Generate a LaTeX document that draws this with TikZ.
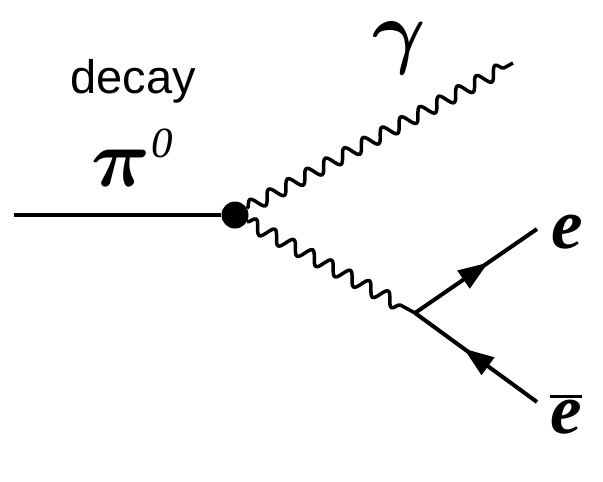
\documentclass[tikz,border=0pt]{standalone}
\usepackage{graphicx}
\usepackage{fontspec}
\setmainfont{Liberation Serif}
\newfontfamily\labelsans{Liberation Sans}
\usetikzlibrary{arrows.meta,positioning,decorations.pathmorphing,decorations.markings}
\tikzset{
  pion/.style={line width=4pt},
  photon/.style={line width=3.5pt, decorate,
    decoration={snake, segment length=21.5pt, amplitude=6.5pt}},
  fermion/.style={line width=4pt, postaction={decorate},
    decoration={markings, mark=at position 0.6 with {\arrow{Triangle[length=30pt,width=21pt]}}}},
  vertexdot/.style={circle, fill=black, minimum size=27pt, inner sep=0pt},
  particle/.style={font=\fontsize{71}{76}\selectfont\bfseries\itshape, inner sep=0pt, anchor=base},
  greek/.style={font=\boldmath, inner sep=0pt, anchor=base},
  caption/.style={font=\labelsans\fontsize{47}{50}\selectfont, inner sep=0pt, anchor=base}
}
\begin{document}
\begin{tikzpicture}[x=1pt, y=-1pt]
  \useasboundingbox (0,0) rectangle (603,482);
  % vertices and free ends
  \coordinate (pstart) at (14,215);
  \node[vertexdot] (v1) at (235,215) {};
  \coordinate (gend) at (513,63);
  \coordinate (v2) at (415,313);
  \coordinate (eend) at (537,229);
  \coordinate (bend) at (537,402);

  \draw[pion] (pstart) -- (v1);
  \draw[photon] (v1) -- (gend);
  \draw[photon, decoration={post length=12pt}] (v1) -- (v2);
  \draw[fermion] (v2) -- (eend);
  \draw[fermion] (bend) -- (v2);

  % labels
  \node[caption] (decay) at (133,93) {decay};
  \node[greek] (pi) at (132,186)
    {\scalebox{8.2}{$\pi$}\kern1pt\raisebox{29pt}{\fontsize{43}{46}\selectfont\itshape 0}};
  \node[greek] (gamma) at (399,58) {\scalebox{8.2}{$\gamma$}};
  \node[particle] (elec) at (567,248) {e};
  \node[particle] (posi) at (566,433) {\vbox{\hrule height 2.5pt\kern 2pt\hbox{e}}};
\end{tikzpicture}
\end{document}
